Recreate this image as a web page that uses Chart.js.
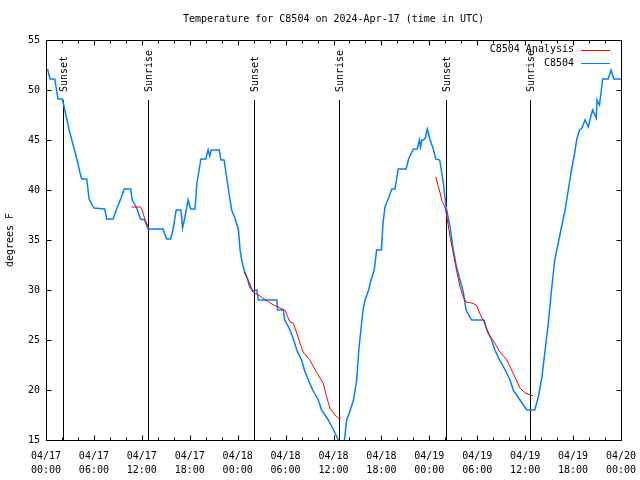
<!DOCTYPE html>
<html>
<head>
<meta charset="utf-8">
<script src="https://cdn.jsdelivr.net/npm/chart.js@4.4.1/dist/chart.umd.min.js"></script>
<style>
  body { margin: 0; background: #fff; }
</style>
</head>
<body>
<canvas id="tempChart" width="640" height="480"></canvas>
<script>
// hours since 2024-04-17 00:00 UTC
const stationName = 'C8504';
const titleText = 'Temperature for C8504 on 2024-Apr-17 (time in UTC)';

// observed temperature (F)
const obsHours = [0.2, 0.5, 1.1, 1.5, 2.05, 2.6, 2.9, 3.5, 3.84, 4.26, 4.47, 5.1, 5.4, 6.0, 7.35, 7.6, 8.4, 8.85, 9.4, 9.8,
  10.6, 10.8, 11.35, 11.85, 12.35, 12.77, 14.65, 15.1, 15.6, 15.9, 16.3, 16.9, 17.1, 17.4, 17.8, 18.1, 18.65, 18.9, 19.4, 20.0,
  20.3, 20.5, 20.7, 21.7, 21.9, 22.3, 22.8, 23.25, 23.7, 24.1, 24.3, 24.5, 24.8, 25.2, 25.5, 25.9, 26.4, 26.6, 28.9, 29.0,
  29.7, 29.9, 30.55, 31.1, 31.4, 32.0, 32.35, 32.85, 33.4, 34.1, 34.5, 35.35, 36.0, 36.6, 36.9, 37.3, 37.65, 38.1, 38.5, 38.9,
  39.2, 39.7, 39.95, 40.4, 40.7, 41.1, 41.4, 42.0, 42.2, 42.45, 42.9, 43.3, 43.7, 44.1, 45.1, 45.4, 46.0, 46.5, 46.75, 46.9,
  47.05, 47.25, 47.5, 47.75, 48.1, 48.5, 48.8, 49.3, 49.75, 50.1, 50.6, 51.0, 51.4, 51.85, 52.25, 52.6, 53.3, 54.85, 55.2, 55.8,
  56.2, 56.8, 57.5, 58.1, 58.5, 59.35, 60.2, 61.2, 61.65, 62.1, 62.5, 62.9, 63.3, 63.7, 64.4, 65.0, 65.4, 65.8, 66.2, 66.45,
  66.8, 67.1, 67.5, 67.9, 68.1, 68.45, 68.9, 69.0, 69.3, 69.5, 69.7, 70.4, 70.75, 71.1, 72];
const obsTemps = [52.1, 51.1, 51.1, 49.1, 49.1, 47.1, 46, 44.2, 43.2, 41.7, 41.1, 41.1, 39.1, 38.2, 38.1, 37.1, 37.1, 38.1, 39.2, 40.1,
  40.1, 39, 38.2, 37.1, 37, 36.1, 36.1, 35.1, 35.1, 36, 38, 38, 36.2, 37.3, 39, 38.1, 38.1, 40.7, 43.1, 43.1,
  44, 43.4, 44, 44, 43, 43, 40.3, 38, 37.1, 36, 34, 33, 32, 31.2, 30.3, 29.9, 30, 29, 29, 28,
  28, 27, 26, 24.8, 24, 23, 22, 21, 20, 19, 18, 17, 16, 15, 14.5, 14.5, 17, 18, 19, 21,
  24.3, 28, 29, 30, 31, 32, 34, 34, 36.7, 38.3, 39.2, 40.1, 40.1, 42.1, 42.1, 43.1, 44.1, 44.1, 45, 44.3,
  45, 45, 45.2, 46.1, 45, 44.1, 43.1, 43, 40.7, 38.3, 36.3, 34, 32.3, 31, 29.8, 28, 27, 27, 26, 25,
  24, 23, 22, 21, 20, 19, 18, 18, 19.3, 21.3, 24, 26.7, 30, 33, 35.7, 38, 40, 42, 43.7, 45,
  46, 46.2, 47, 46.3, 47, 48, 47.2, 49, 48.5, 49.7, 51.1, 51.1, 52, 51.1, 51.1];

// analysis temperature (F), null = break between runs
const anaHours = [10.7, 11.85, 12.15, 12.4, 12.8, 12.9, null,
  24.8, 25.5, 25.9, 26.8, 28.05, 29.3, 29.9, 30.55, 30.95, 31.4, 31.8, 32.2, 33.05, 33.7, 34.3, 34.7, 35.15, 35.55, 36.2, 36.6, 36.9, null,
  48.8, 49.25, 49.55, 49.95, 50.2, 50.6, 51.0, 51.4, 51.85, 52.25, 52.6, 53.3, 53.9, 54.3, 54.9, 55.5, 56.2, 56.85, 57.7, 58.3, 58.9, 59.35, 60.0, 61.0];
const anaTemps = [38.3, 38.3, 37.7, 37.0, 36.3, 36.3, null,
  31.8, 30.7, 29.8, 29.4, 28.7, 28.2, 28, 26.8, 26.7, 25.7, 24.7, 23.8, 23, 22, 21.2, 20.7, 19.3, 18.2, 17.5, 17.2, 17.2, null,
  41.3, 40, 39, 38.3, 37.3, 35.3, 33.7, 32, 30.3, 29.3, 28.8, 28.7, 28.5, 27.7, 26.7, 25.5, 24.7, 23.8, 23, 22, 21, 20.2, 19.7, 19.4];

// sunrise / sunset markers
const sunHours = [2.13, 12.77, 26.05, 36.69, 50.09, 60.6];
const sunNames = ['Sunset', 'Sunrise', 'Sunset', 'Sunrise', 'Sunset', 'Sunrise'];
const sunLineTop = 49;

// axes
const yMin = 15, yMax = 55, yStep = 5;
const xMin = 0, xMax = 72, xStep = 6;
const xDayLabels = ['04/17', '04/17', '04/17', '04/17', '04/18', '04/18', '04/18', '04/18', '04/19', '04/19', '04/19', '04/19', '04/20'];
const xTimeLabels = ['00:00', '06:00', '12:00', '18:00', '00:00', '06:00', '12:00', '18:00', '00:00', '06:00', '12:00', '18:00', '00:00'];

const FONT = "'DejaVu Sans Mono', 'Liberation Mono', monospace";
Chart.defaults.font.family = FONT;
Chart.defaults.font.size = 10;
Chart.defaults.color = '#000';

function toPoints(xs, ys) {
  return xs.map((h, i) => ({ x: h, y: ys[i] }));
}

// gnuplot style frame, inward ticks, sun markers, labels and legend
const gnuplotLook = {
  id: 'gnuplotLook',
  beforeDraw(chart) {
    const ctx = chart.ctx;
    ctx.save();
    ctx.fillStyle = '#fff';
    ctx.fillRect(0, 0, chart.width, chart.height);
    ctx.restore();
  },
  beforeDatasetsDraw(chart) {
    const { ctx, chartArea: a } = chart;
    const xs = chart.scales.x, ys = chart.scales.y;
    ctx.save();
    ctx.strokeStyle = '#000';
    ctx.lineWidth = 1;
    ctx.beginPath();
    sunHours.forEach((h) => {
      const px = Math.round(xs.getPixelForValue(h)) + 0.5;
      ctx.moveTo(px, Math.round(ys.getPixelForValue(sunLineTop)));
      ctx.lineTo(px, a.bottom);
    });
    ctx.stroke();
    ctx.restore();
  },
  afterDatasetsDraw(chart) {
    const { ctx, chartArea: a } = chart;
    const xs = chart.scales.x, ys = chart.scales.y;
    ctx.save();
    ctx.font = '10px ' + FONT;
    ctx.fillStyle = '#000';

    // sun labels
    sunHours.forEach((h, i) => {
      ctx.save();
      ctx.translate(Math.round(xs.getPixelForValue(h)) + 1, ys.getPixelForValue(sunLineTop) - 8);
      ctx.rotate(-Math.PI / 2);
      ctx.textAlign = 'left';
      ctx.textBaseline = 'middle';
      ctx.fillText(sunNames[i], 0, 0);
      ctx.restore();
    });

    // frame and ticks
    ctx.strokeStyle = '#000';
    ctx.lineWidth = 1;
    const L = Math.round(a.left) + 0.5, R = Math.round(a.right) + 0.5;
    const T = Math.round(a.top) + 0.5, B = Math.round(a.bottom) + 0.5;
    ctx.beginPath();
    for (let h = xMin; h <= xMax; h += 2) {
      const px = Math.round(xs.getPixelForValue(h)) + 0.5;
      const len = h % xStep === 0 ? 5 : 3;
      ctx.moveTo(px, B); ctx.lineTo(px, B - len);
      ctx.moveTo(px, T); ctx.lineTo(px, T + len);
    }
    for (let t = yMin; t <= yMax; t += yStep) {
      const py = Math.round(ys.getPixelForValue(t)) + 0.5;
      ctx.moveTo(L, py); ctx.lineTo(L + 5, py);
      ctx.moveTo(R, py); ctx.lineTo(R - 5, py);
    }
    ctx.stroke();
    ctx.strokeRect(L, T, R - L, B - T);

    // legend
    ctx.textAlign = 'right';
    ctx.textBaseline = 'middle';
    [0, 1].forEach((di, row) => {
      const ds = chart.data.datasets[di];
      const yy = a.top + 9.5 + row * 13.5;
      ctx.fillStyle = '#000';
      ctx.fillText(ds.label, a.right - 47, yy);
      ctx.strokeStyle = ds.borderColor;
      ctx.lineWidth = 1;
      ctx.beginPath();
      ctx.moveTo(a.right - 40, Math.round(yy) + 0.5);
      ctx.lineTo(a.right - 11, Math.round(yy) + 0.5);
      ctx.stroke();
    });

    // title
    ctx.textAlign = 'center';
    ctx.fillStyle = '#000';
    ctx.fillText(titleText, (a.left + a.right) / 2, 19);
    ctx.restore();
  }
};

const ctx = document.getElementById('tempChart').getContext('2d');
new Chart(ctx, {
  type: 'line',
  data: {
    datasets: [
      {
        label: stationName + ' Analysis',
        data: toPoints(anaHours, anaTemps),
        borderColor: 'rgb(255, 0, 0)',
        borderWidth: 1,
        pointRadius: 0,
        spanGaps: false
      },
      {
        label: stationName,
        data: toPoints(obsHours, obsTemps),
        borderColor: 'rgb(0, 128, 255)',
        borderWidth: 1.5,
        pointRadius: 0
      }
    ]
  },
  options: {
    responsive: false,
    animation: false,
    layout: { padding: { top: 40, right: 19, left: 0, bottom: 0 } },
    scales: {
      x: {
        type: 'linear',
        min: xMin,
        max: xMax,
        grid: { display: false, drawTicks: false },
        border: { display: false },
        afterFit: (scale) => {
          scale.height = 40;
          scale.paddingLeft = 0;
          scale.paddingRight = 0;
        },
        ticks: {
          stepSize: xStep,
          autoSkip: false,
          maxRotation: 0,
          padding: 9,
          font: { size: 10, lineHeight: 1.4 },
          callback: (v) => [xDayLabels[v / xStep], xTimeLabels[v / xStep]]
        }
      },
      y: {
        min: yMin,
        max: yMax,
        grid: { display: false, drawTicks: false },
        border: { display: false },
        afterFit: (scale) => {
          scale.width = 46;
          scale.paddingTop = 0;
          scale.paddingBottom = 0;
        },
        ticks: { stepSize: yStep, padding: 6 },
        title: { display: true, text: 'degrees F', font: { size: 10 }, padding: { top: 4, bottom: 0 } }
      }
    },
    plugins: {
      legend: { display: false },
      tooltip: { enabled: false },
      title: { display: false }
    }
  },
  plugins: [gnuplotLook]
});
</script>
</body>
</html>
